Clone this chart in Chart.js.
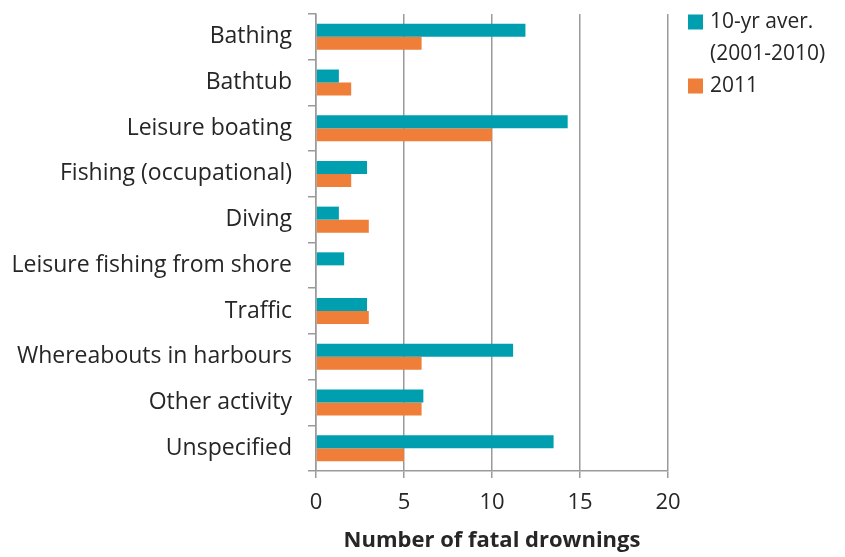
<!DOCTYPE html>
<html>
<head>
<meta charset="utf-8">
<script src="https://cdn.jsdelivr.net/npm/chart.js@4.4.0/dist/chart.umd.min.js"></script>
<style>
  html, body { margin: 0; padding: 0; background: #fff; }
  #wrap { width: 845px; height: 557px; }
</style>
</head>
<body>
<div id="wrap"><canvas id="graph_drown" width="845" height="557"></canvas></div>
<script>
var categorias = ["Bathing", "Bathtub", "Leisure boating", "Fishing (occupational)", "Diving",
    "Leisure fishing from shore", "Traffic", "Whereabouts in harbours", "Other activity", "Unspecified"];
var promedio_10 = [11.9, 1.3, 14.3, 2.9, 1.3, 1.6, 2.9, 11.2, 6.1, 13.5];
var datos_2011 = [6, 2, 10, 2, 3, 0, 3, 6, 6, 5];
var ticks_x = [0, 5, 10, 15, 20];

var colorTeal = '#009FAF';
var colorOrange = '#EF7E38';
var gris = '#9a9a9a';
var textColor = '#262626';
var fuente = '"Open Sans", sans-serif';

var datos_avg = {label: ["10-yr aver.", "(2001-2010)"], data: promedio_10, backgroundColor: colorTeal};
var datos_new = {label: ["2011"], data: datos_2011, backgroundColor: colorOrange};

// leyenda propia, porque la de Chart.js no parte el texto en dos lineas
var leyenda = {
    id: 'leyenda',
    afterDraw: function(chart) {
        var ctx = chart.ctx;
        var x = 688, y = 22;
        ctx.save();
        ctx.font = '21px ' + fuente;
        ctx.textBaseline = 'middle';
        chart.data.datasets.forEach(function(ds) {
            ctx.fillStyle = ds.backgroundColor;
            ctx.fillRect(x, y - 7.5, 15, 15);
            ctx.fillStyle = textColor;
            ds.label.forEach(function(linea) {
                ctx.fillText(linea, x + 22, y);
                y += 32;
            });
        });
        ctx.restore();
    }
};

var grafico = new Chart(document.getElementById("graph_drown").getContext("2d"), {
    type: 'bar',
    data: {labels: categorias, datasets: [datos_avg, datos_new]},
    plugins: [leyenda],
    options: {
        indexAxis: 'y',
        responsive: false,
        animation: false,
        layout: {padding: {left: 0, top: 14, right: 177, bottom: 0}},
        datasets: {bar: {categoryPercentage: 0.57, barPercentage: 1.0}},
        plugins: {legend: {display: false}, tooltip: {enabled: false}},
        scales: {
            x: {
                min: 0, max: 20,
                afterBuildTicks: function(scale) {
                    scale.ticks = ticks_x.map(function(v) { return {value: v}; });
                },
                afterFit: function(scale) { scale.height = 86; scale.paddingLeft = 0; scale.paddingRight = 0; },
                grid: {color: gris, lineWidth: 1.5, tickLength: 7},
                border: {color: gris, width: 1.5},
                ticks: {color: textColor, font: {family: fuente, size: 22}, padding: 12},
                title: {display: true, text: 'Number of fatal drownings', color: textColor,
                    font: {family: fuente, size: 22, weight: 'bold'}, padding: {top: 0, bottom: 3}}
            },
            y: {
                afterFit: function(scale) { scale.width = 316; scale.paddingTop = 0; scale.paddingBottom = 0; },
                grid: {drawOnChartArea: false, color: gris, lineWidth: 1.5, tickLength: 8},
                border: {color: gris, width: 1.5},
                ticks: {color: textColor, font: {family: fuente, size: 23}, padding: 16}
            }
        }
    }
});
</script>
</body>
</html>
